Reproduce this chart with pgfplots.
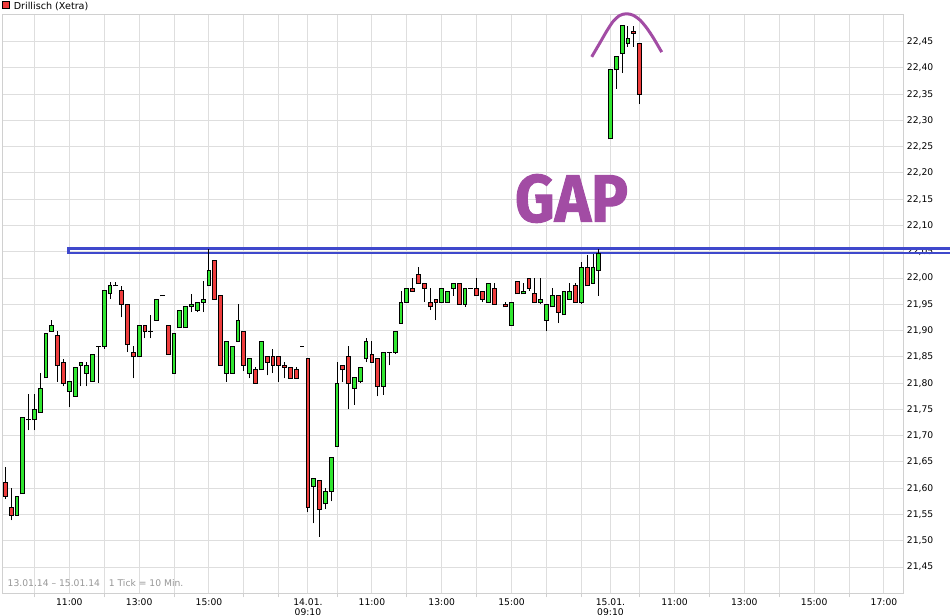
\documentclass[border=0pt]{standalone}
\usepackage{pgfplots}
\pgfplotsset{compat=1.18}
\usepackage{pgfplotstable}
\usepackage{graphicx}
\usepackage{fontspec}
\setmainfont{DejaVu Sans}
\newfontfamily\gapfont{Fira Sans}[BoldFeatures={FakeBold=1.5}]

\definecolor{candgreen}{RGB}{48,230,48}
\definecolor{candred}{RGB}{238,60,60}
\definecolor{gridc}{RGB}{222,222,222}
\definecolor{framec}{RGB}{208,208,208}
\definecolor{infoc}{RGB}{150,150,150}
\definecolor{markc}{RGB}{63,72,204}
\definecolor{gapc}{RGB}{162,76,164}

% slot = 10-minute slot, 0 = 13.01. 09:10
% rising (and unchanged) candles
\pgfplotstableread{
slot open high low close
2 21.549 21.585 21.549 21.585
3 21.589 21.735 21.589 21.735
4 21.730 21.780 21.710 21.730
5 21.730 21.780 21.710 21.750
6 21.745 21.819 21.745 21.790
7 21.810 21.895 21.810 21.895
8 21.899 21.921 21.899 21.910
11 21.785 21.804 21.754 21.804
12 21.775 21.830 21.775 21.830
13 21.834 21.840 21.794 21.840
14 21.819 21.840 21.794 21.834
15 21.803 21.855 21.803 21.855
16 21.870 21.870 21.800 21.870
17 21.870 21.976 21.865 21.976
18 21.970 21.992 21.960 21.985
19 21.985 21.992 21.985 21.985
23 21.850 21.910 21.850 21.910
25 21.899 21.930 21.885 21.899
26 21.920 21.960 21.920 21.960
27 21.966 21.966 21.966 21.966
29 21.819 21.895 21.819 21.895
30 21.905 21.939 21.905 21.939
31 21.905 21.945 21.905 21.945
32 21.945 21.970 21.935 21.950
33 21.939 21.954 21.935 21.954
34 21.954 21.995 21.935 21.960
35 21.985 22.055 21.985 22.015
38 21.819 21.880 21.803 21.880
39 21.819 21.870 21.819 21.870
40 21.880 21.950 21.880 21.920
42 21.819 21.846 21.809 21.846
44 21.825 21.880 21.825 21.880
51 21.870 21.870 21.870 21.870
53 21.603 21.619 21.533 21.619
55 21.570 21.600 21.560 21.594
56 21.594 21.659 21.575 21.659
57 21.680 21.840 21.680 21.800
60 21.790 21.810 21.759 21.810
61 21.804 21.830 21.800 21.830
62 21.846 21.886 21.840 21.880
65 21.794 21.859 21.778 21.859
66 21.859 21.859 21.834 21.859
67 21.859 21.899 21.855 21.899
68 21.914 21.976 21.914 21.954
69 21.954 21.981 21.954 21.981
75 21.954 21.981 21.954 21.981
76 21.954 21.975 21.954 21.975
77 21.981 21.990 21.966 21.990
79 21.950 21.981 21.945 21.981
80 21.981 21.981 21.981 21.981
83 21.954 21.990 21.954 21.990
87 21.910 21.954 21.910 21.954
89 21.970 21.990 21.970 21.975
92 21.954 22.000 21.950 21.960
93 21.920 21.950 21.899 21.950
94 21.945 21.981 21.945 21.966
96 21.930 21.975 21.930 21.975
97 21.960 21.990 21.960 21.975
99 21.954 22.030 21.950 22.021
101 21.990 22.046 21.990 22.021
102 22.015 22.055 21.966 22.046
104 22.265 22.396 22.265 22.396
105 22.396 22.421 22.360 22.421
106 22.427 22.480 22.390 22.480
107 22.446 22.480 22.440 22.455
}\upc

% falling candles
\pgfplotstableread{
slot open high low close
0 21.610 21.640 21.579 21.585
1 21.564 21.600 21.539 21.549
9 21.890 21.900 21.803 21.834
10 21.840 21.846 21.794 21.800
20 21.976 21.985 21.925 21.950
21 21.950 21.950 21.859 21.874
22 21.859 21.870 21.809 21.850
24 21.910 21.910 21.885 21.899
28 21.910 21.910 21.855 21.855
36 22.034 22.034 21.960 21.960
37 21.966 21.966 21.834 21.834
41 21.899 21.899 21.824 21.834
43 21.825 21.830 21.800 21.800
45 21.850 21.850 21.815 21.840
46 21.850 21.865 21.819 21.834
47 21.850 21.850 21.803 21.834
48 21.834 21.840 21.809 21.830
49 21.830 21.830 21.809 21.809
50 21.825 21.830 21.809 21.809
52 21.846 21.846 21.554 21.564
54 21.615 21.615 21.508 21.560
58 21.834 21.834 21.803 21.825
59 21.850 21.870 21.750 21.800
63 21.855 21.880 21.840 21.840
64 21.846 21.846 21.775 21.794
70 21.981 22.000 21.975 21.975
71 22.006 22.021 21.990 21.990
72 21.990 21.990 21.954 21.981
73 21.954 21.981 21.939 21.945
74 21.960 21.960 21.920 21.954
78 21.990 21.990 21.950 21.950
81 21.981 22.000 21.966 21.966
82 21.975 21.975 21.954 21.960
84 21.981 21.990 21.950 21.950
86 21.950 21.954 21.945 21.945
88 21.994 21.994 21.970 21.970
90 22.000 22.000 21.975 21.981
91 21.970 22.000 21.954 21.954
95 21.966 21.966 21.914 21.935
98 21.985 21.990 21.954 21.954
100 22.021 22.044 21.985 21.985
108 22.470 22.480 22.440 22.466
109 22.446 22.446 22.331 22.350
}\downc

\pgfplotsset{
  candle part/.style 2 args={draw=none, mark=none, forget plot,
    error bars/.cd, y dir=plus, y explicit, error mark=none,
    error bar style={draw=#1, line width=#2, solid}},
}

\begin{document}
\begin{tikzpicture}
\begin{axis}[
    at={(2.7pt,21.7pt)}, anchor=south west,
    scale only axis, width=900.6pt, height=579pt,
    xmin=-0.45, xmax=154.32, ymin=21.40, ymax=22.502,
    clip=false, set layers,
    axis line style={draw=framec, line width=1pt},
    grid=major, grid style={draw=gridc, line width=1pt},
    major tick length=0pt,
    tick style={draw=framec, line width=1pt},
    xtick pos=left,
    xtick={11,23,35,52,63,75,87,104,115,127,139,151},
    xticklabels={11:00,13:00,15:00,{14.01.\\09:10},11:00,13:00,15:00,{15.01.\\09:10},11:00,13:00,15:00,17:00},
    xticklabel style={anchor=north, inner sep=0pt, yshift=-4.7pt, align=center, font=\fontsize{9.2}{10.5}\selectfont},
    extra x ticks={5,17,29,41,47,57,69,81,93,99,109,121,133,145},
    extra x tick labels={},
    extra x tick style={grid=major, tick align=outside, major tick length=4pt},
    ytick={21.45,21.50,21.55,21.60,21.65,21.70,21.75,21.80,21.85,21.90,21.95,22.00,22.05,22.10,22.15,22.20,22.25,22.30,22.35,22.40,22.45},
    yticklabel pos=right,
    yticklabel style={anchor=west, inner sep=0pt, xshift=3.4pt, font=\fontsize{9.2}{10.5}\selectfont,
        /pgf/number format/fixed, /pgf/number format/fixed zerofill,
        /pgf/number format/precision=2, /pgf/number format/use comma,
        /pgf/number format/assume math mode=true},
]
% marked level (double blue line)
\addplot[draw=markc, line width=2.7pt, mark=none] coordinates {(163,22.0564) (10.9,22.0564) (10.9,22.0476) (163,22.0476)};

% wicks
\addplot[candle part={black}{1pt}] table[x=slot, y=low, y error plus expr={\thisrow{high}-\thisrow{low}}] {\upc};
\addplot[candle part={black}{1pt}] table[x=slot, y=low, y error plus expr={\thisrow{high}-\thisrow{low}}] {\downc};
% bodies: black outline, coloured inside (0.00095 = half a pixel)
\addplot[candle part={black}{4.8pt}] table[x=slot, y expr={\thisrow{open}-0.00095}, y error plus expr={\thisrow{close}-\thisrow{open}+0.0019}] {\upc};
\addplot[candle part={candgreen}{2.8pt}] table[x=slot, y expr={\thisrow{open}+0.00095}, y error plus expr={max(\thisrow{close}-\thisrow{open}-0.0019,0)}] {\upc};
\addplot[candle part={black}{4.8pt}] table[x=slot, y expr={\thisrow{close}-0.00095}, y error plus expr={\thisrow{open}-\thisrow{close}+0.0019}] {\downc};
\addplot[candle part={candred}{2.8pt}] table[x=slot, y expr={\thisrow{close}+0.00095}, y error plus expr={max(\thisrow{open}-\thisrow{close}-0.0019,0)}] {\downc};

% arc over the top
\addplot[draw=gapc, line width=3pt, smooth, mark=none] coordinates {
(100.77,22.421) (102.2,22.448) (103.35,22.470) (104.49,22.489) (105.64,22.500)
(106.79,22.503) (107.93,22.500) (109.07,22.491) (110.22,22.476) (111.37,22.457) (112.8,22.430)};
\end{axis}

\draw[fill=candred, draw=black, line width=0.8pt] (2.2pt,606.2pt) rectangle (9.6pt,613.3pt);
\node[anchor=base west, inner sep=0pt, font=\fontsize{9.6}{11}\selectfont] at (13.6pt,605pt) {Drillisch (Xetra)};
\node[anchor=base west, inner sep=0pt, text=infoc, font=\fontsize{9.2}{11}\selectfont] at (7.5pt,28.3pt) {13.01.14 – 15.01.14\ \ \ 1 Tick = 10 Min.};
\node[inner sep=0pt, text=gapc, font=\gapfont\bfseries\fontsize{67}{67}\selectfont] at (571.5pt,416.5pt) {\scalebox{0.92}[1]{GAP}};

\pgfresetboundingbox
\path[use as bounding box] (0pt,0pt) rectangle (950pt,615pt);
\end{tikzpicture}
\end{document}
